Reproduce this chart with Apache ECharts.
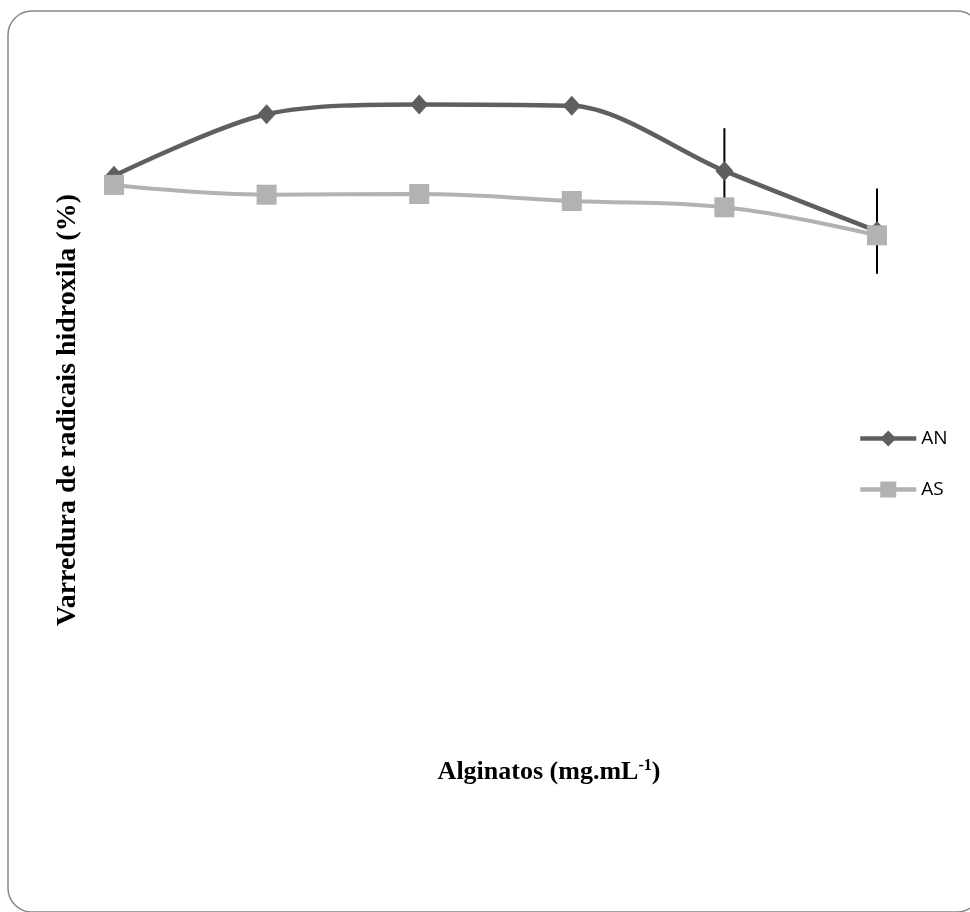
<!DOCTYPE html>
<html>
<head>
<meta charset="utf-8">
<script src="https://cdn.jsdelivr.net/npm/echarts@6/dist/echarts.min.js"></script>
<style>
    html, body { margin: 0; padding: 0; background: #fff; }
    #main { width: 970px; height: 912px; }
</style>
</head>
<body>
<div id="main"></div>
<script>
// concentrações (sem rótulos visíveis no gráfico original)
var categories = ['1', '2', '3', '4', '5', '6'];
var anValues = [80.6, 89.4, 90.8, 90.6, 81.3, 72.7];
var asValues = [79.3, 77.9, 78.0, 77.0, 76.1, 72.1];
// desvio padrão (barras de erro só nos dois últimos pontos de AN)
var anErrors = [0, 0, 0, 0, 6.1, 6.1];

renderChart();

function renderChart() {
    var myChart = echarts.init(document.getElementById('main'));

    var errorData = [];
    for (var i = 0; i < anValues.length; i++) {
        if (anErrors[i] > 0) {
            errorData.push([i, anValues[i], anErrors[i]]);
        }
    }

    var option = {
        backgroundColor: '#fff',
        animation: false,
        grid: {
            left: 114,
            right: 93,
            top: 40,
            bottom: 172
        },
        legend: {
            data: ['AN', 'AS'],
            orient: 'vertical',
            left: 853,
            top: 424,
            itemWidth: 56,
            itemHeight: 20,
            itemGap: 32,
            lineStyle: {width: 4.5},
            textStyle: {
                color: '#000',
                fontSize: 19,
                fontFamily: 'Open Sans'
            }
        },
        xAxis: {
            type: 'category',
            data: categories,
            boundaryGap: false,
            axisLine: {show: false},
            axisTick: {show: false},
            axisLabel: {show: false},
            splitLine: {show: false}
        },
        yAxis: {
            type: 'value',
            min: 0,
            max: 100,
            axisLine: {show: false},
            axisTick: {show: false},
            axisLabel: {show: false},
            splitLine: {show: false}
        },
        graphic: [
            {
                // moldura arredondada (cortada à direita no original)
                type: 'rect',
                shape: {x: 8, y: 11, width: 973, height: 901, r: 24},
                style: {fill: 'none', stroke: '#888', lineWidth: 1.5},
                silent: true
            },
            {
                type: 'text',
                x: 68,
                y: 410,
                rotation: Math.PI / 2,
                style: {
                    text: 'Varredura de radicais hidroxila (%)',
                    font: 'bold 28px "Liberation Serif"',
                    fill: '#000',
                    align: 'center',
                    verticalAlign: 'middle'
                }
            },
            {
                type: 'text',
                x: 549,
                y: 772,
                style: {
                    text: '{b|Alginatos (mg.mL}{s|-1}{b|)}',
                    align: 'center',
                    verticalAlign: 'middle',
                    rich: {
                        b: {font: 'bold 26px "Liberation Serif"', fill: '#000'},
                        s: {font: 'bold 16px "Liberation Serif"', fill: '#000', verticalAlign: 'top', padding: [0, 0, 12, 0]}
                    }
                }
            }
        ],
        series: [
            {
                name: 'erro',
                type: 'custom',
                z: 1,
                data: errorData,
                encode: {x: 0, y: 1},
                renderItem: function (params, api) {
                    var x = api.value(0);
                    var y = api.value(1);
                    var e = api.value(2);
                    var top = api.coord([x, y + e]);
                    var bottom = api.coord([x, y - e]);
                    return {
                        type: 'line',
                        shape: {x1: top[0], y1: top[1], x2: bottom[0], y2: bottom[1]},
                        style: {stroke: '#000', lineWidth: 2}
                    };
                }
            },
            {
                name: 'AN',
                type: 'line',
                z: 3,
                smooth: 0.3,
                data: anValues,
                symbol: 'diamond',
                symbolSize: [18, 20],
                lineStyle: {color: '#5f5f5f', width: 4.5},
                itemStyle: {color: '#5f5f5f'}
            },
            {
                name: 'AS',
                type: 'line',
                z: 4,
                smooth: 0.4,
                data: asValues,
                symbol: 'rect',
                symbolSize: 20,
                lineStyle: {color: '#b2b2b2', width: 4},
                itemStyle: {color: '#b2b2b2'}
            }
        ]
    };
    myChart.setOption(option);
}
</script>
</body>
</html>
